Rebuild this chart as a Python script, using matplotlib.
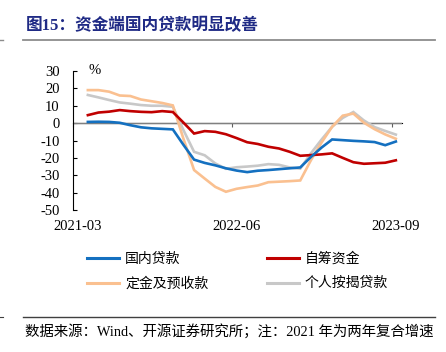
import numpy as np
import matplotlib
matplotlib.use("Agg")
import matplotlib.pyplot as plt
from matplotlib.lines import Line2D

# ---- data (month index 0 = 2021-03) ----
tick_labels = ["2021-03", "2022-06", "2023-09"]
tick_months = [0, 15, 30]
start_offset = 1.4   # first observation, in months after 2021-03
domestic_loans = [0.7, 0.8, 0.7, 0.2, -1.2, -2.4, -3.0, -3.3, -3.6, -12.5, -21.0, -22.9, -24.3, -26.0, -27.3,
                  -28.2, -27.4, -27.0, -26.5, -26.0, -25.5, -19.5, -14.1, -9.4, -9.8, -10.2, -10.5, -10.9, -12.7, -10.6]
self_raised = [4.6, 6.1, 6.6, 7.5, 6.9, 6.5, 6.3, 6.9, 6.4, 0.3, -6.0, -4.6, -5.0, -6.4, -8.6,
               -11.0, -12.0, -13.6, -14.6, -16.5, -18.8, -18.4, -18.0, -17.4, -20.0, -22.5, -23.4, -23.1, -22.8, -21.4]
deposits_prepay = [19.0, 19.0, 18.1, 15.9, 15.6, 13.6, 12.6, 11.6, 10.2, -9.0, -27.0, -31.9, -36.7, -39.5, -37.8,
                   -36.8, -35.9, -34.0, -33.7, -33.4, -33.0, -21.4, -11.2, -2.1, 4.3, 5.5, 0.2, -3.5, -6.5, -9.0]
mortgage = [16.2, 14.8, 13.3, 11.9, 11.2, 10.4, 10.0, 10.0, 9.4, -4.0, -16.5, -18.5, -23.2, -26.3, -25.4,
            -25.0, -24.5, -23.6, -24.0, -25.5, -26.2, -17.4, -9.5, -2.1, 3.0, 6.4, 1.5, -2.3, -4.5, -6.6]
series_names = ["国内贷款", "自筹资金", "定金及预收款", "个人按揭贷款"]
series_colors = ["#1470C0", "#C00000", "#FAC090", "#C8C8C8"]
yticks = list(range(-50, 31, 10))

W, H = 446, 352
fig = plt.figure(figsize=(W / 100, H / 100), dpi=100)
CJK = ["Noto Sans CJK SC", "DejaVu Sans"]
MIX = ["Liberation Serif", "Noto Sans CJK SC", "DejaVu Sans"]

def fx(px): return px / W
def fy(py): return 1 - py / H

ax = fig.add_axes([fx(73), fy(210), fx(402) - fx(73), fy(71) - fy(210)])
x = np.arange(len(domestic_loans)) + start_offset
all_series = [domestic_loans, self_raised, deposits_prepay, mortgage]
order = [3, 2, 1, 0]
handles = {}
for i in order:
    (h,) = ax.plot(x, all_series[i], color=series_colors[i], lw=1.9, solid_joinstyle="miter", zorder=3 + (3 - i))
    handles[i] = h

ax.set_ylim(-50, 30)
ax.set_xlim(0, 30.98)
ax.set_yticks(yticks)
ax.set_yticklabels([str(v) for v in yticks], family="Liberation Serif", fontsize=10.5)
ax.tick_params(axis="y", direction="in", length=3, width=0.8, pad=9.5, colors="black")
for s in ["top", "right", "bottom"]:
    ax.spines[s].set_visible(False)
ax.spines["left"].set_linewidth(0.8)
ax.axhline(0, color="#808080", lw=1.0, zorder=2)

# labels at the bottom
ax.set_xticks([m + 0.4 for m in tick_months])
ax.set_xticklabels(tick_labels, family="Liberation Serif", fontsize=10.5)
ax.tick_params(axis="x", length=0, pad=7)

# tick marks on the zero line
sec = ax.secondary_xaxis(0.625)
sec.set_xticks(tick_months)
sec.set_xticklabels([])
sec.spines["bottom"].set_visible(False)
sec.tick_params(axis="x", direction="in", length=3, width=0.8, colors="#606060")

ax.text(fx(95), fy(71), "%", transform=fig.transFigure, ha="center", va="center",
        family="Liberation Serif", fontsize=10.5)

# legend (row-wise: column 1 = 国内贷款, 定金及预收款; column 2 = 自筹资金, 个人按揭贷款)
leg_order = [0, 2, 1, 3]
leg = fig.legend([handles[i] for i in leg_order], [series_names[i] for i in leg_order],
                 ncol=2, loc="upper left", bbox_to_anchor=(fx(87), fy(252)),
                 frameon=False, prop={"family": CJK, "size": 10},
                 handlelength=2.3, handletextpad=0.45, columnspacing=4.2,
                 labelspacing=0.75, borderpad=0, borderaxespad=0)
for line in leg.get_lines():
    line.set_linewidth(2.2)

# title and footer
fig.text(fx(26), fy(25.5), "图15：资金端国内贷款明显改善", family=MIX, fontsize=12,
         fontweight="bold", color="#1F2A85", ha="left", va="center")
fig.add_artist(Line2D([fx(23), fx(435)], [fy(40), fy(40)], color="#8C8C8C", lw=1.3))
fig.add_artist(Line2D([fx(0), fx(3)], [fy(40), fy(40)], color="#8C8C8C", lw=1.0))
fig.add_artist(Line2D([fx(23), fx(435)], [fy(317), fy(317)], color="#404040", lw=1.0))
fig.add_artist(Line2D([fx(0), fx(3)], [fy(317), fy(317)], color="#404040", lw=0.8))
fig.text(fx(25), fy(331), "数据来源：Wind、开源证券研究所；注：2021 年为两年复合增速", family=MIX,
         fontsize=10.4, color="black", ha="left", va="center")

fig.savefig("out.png", dpi=100)
